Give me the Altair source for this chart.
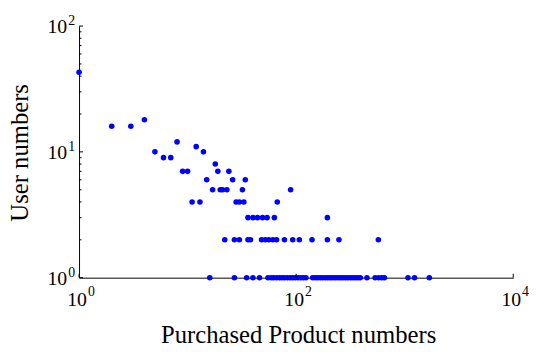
import altair as alt
import pandas as pd

# ---- data (x: purchased products, y: users) ----
x_43 = [1]
x_18 = [4]
x_16 = [2, 3]
x_12 = [8]
x_11 = [12]
x_10 = [5, 14]
x_9 = [6, 7]
x_8 = [18]
x_7 = [9, 10, 19, 24]
x_6 = [15, 26, 34]
x_5 = [17, 20, 21, 23, 32, 89]
x_4 = [11, 13, 28, 30, 33, 67]
x_3 = [36, 40, 44, 49, 54, 63, 194]
x_2 = [22, 27, 30, 36, 38, 48, 52, 56, 61, 66, 78, 93, 107, 140, 194, 248, 572]
x_1 = [16, 27, 35, 40, 46,
       55, 59, 62, 66, 70, 74, 78, 83, 88, 93, 98, 104, 110, 116, 123,
       142, 150, 158, 167, 176, 186, 196, 207, 218, 230, 243, 256, 270, 285,
       300, 317, 334, 352, 371, 390,
       449, 534, 575, 615, 650, 1072, 1232, 1687]

groups = {43: x_43, 18: x_18, 16: x_16, 12: x_12, 11: x_11, 10: x_10, 9: x_9,
          8: x_8, 7: x_7, 6: x_6, 5: x_5, 4: x_4, 3: x_3, 2: x_2, 1: x_1}

y_tick_vals = [1, 10, 100]
y_tick_exps = ["0", "1", "2"]
y_minor_vals = [2, 3, 4, 5, 6, 7, 8, 9, 20, 30, 40, 50, 60, 70, 80, 90]
x_tick_vals = [1, 100, 10000]
x_tick_exps = ["0", "2", "4"]

rows = []
for yv, xs in groups.items():
    for xv in xs:
        rows.append({"products": xv, "users": yv})
df = pd.DataFrame(rows)

ylab = pd.DataFrame({"v": y_tick_vals, "base": ["10"] * 3, "exp": y_tick_exps})
xlab = pd.DataFrame({"v": x_tick_vals, "base": ["10"] * 3, "exp": x_tick_exps})
yminor = pd.DataFrame({"v": y_minor_vals})

FONT = "Liberation Serif"
W, H = 440, 255

xscale = alt.Scale(type="log", domain=[1, 10000], nice=False)
yscale = alt.Scale(type="log", domain=[1, 100], nice=False)

xaxis = alt.Axis(title="Purchased Product numbers", labels=False, ticks=False,
                 grid=False, domainColor="black", domainWidth=1,
                 titleFont=FONT, titleFontSize=25, titleFontWeight="normal",
                 titleColor="black", titleX=W / 2 + 2, titleY=66,
                 titleBaseline="alphabetic", titleAlign="center")
yaxis = alt.Axis(title="User numbers", labels=False, ticks=False,
                 grid=False, domainColor="black", domainWidth=1,
                 titleFont=FONT, titleFontSize=25, titleFontWeight="normal",
                 titleColor="black", titleX=-52, titleY=128, titleAngle=270,
                 titleBaseline="alphabetic", titleAlign="center")


def X(field):
    return alt.X(field, scale=xscale, axis=xaxis, title="Purchased Product numbers")


def Y(field):
    return alt.Y(field, scale=yscale, axis=yaxis, title="User numbers")


points = alt.Chart(df).mark_circle(size=32, color="#0000FF", opacity=1).encode(
    x=X("products:Q"), y=Y("users:Q"))

y_major = alt.Chart(ylab).mark_rule(color="black", strokeWidth=1).encode(
    y=Y("v:Q"), x=alt.value(0), x2=alt.value(4))
y_minor_r = alt.Chart(yminor).mark_rule(color="black", strokeWidth=1).encode(
    y=Y("v:Q"), x=alt.value(0), x2=alt.value(2.5))
x_major = alt.Chart(xlab).mark_rule(color="black", strokeWidth=1).encode(
    x=X("v:Q"), y=alt.value(H), y2=alt.value(H - 4))

y_base = alt.Chart(ylab).mark_text(align="right", baseline="alphabetic", font=FONT,
                                   fontSize=20, color="black", dy=7).encode(
    y=Y("v:Q"), x=alt.value(-12), text="base:N")
y_exp = alt.Chart(ylab).mark_text(align="left", baseline="alphabetic", font=FONT,
                                  fontSize=14, color="black", dy=-1).encode(
    y=Y("v:Q"), x=alt.value(-11), text="exp:N")
x_base = alt.Chart(xlab).mark_text(align="center", baseline="alphabetic", font=FONT,
                                   fontSize=20, color="black", dx=-2).encode(
    x=X("v:Q"), y=alt.value(H + 29), text="base:N")
x_exp = alt.Chart(xlab).mark_text(align="left", baseline="alphabetic", font=FONT,
                                  fontSize=14, color="black", dx=9).encode(
    x=X("v:Q"), y=alt.value(H + 19), text="exp:N")

chart = alt.layer(points, y_major, y_minor_r, x_major, y_base, y_exp, x_base, x_exp).properties(
    width=W, height=H,
    padding={"left": 72, "top": 16, "right": 18, "bottom": 72},
    autosize=alt.AutoSizeParams(type="none"),
    background="white",
).configure(
    view=alt.ViewConfig(stroke="transparent", strokeWidth=0),
    style={"cell": {"stroke": "transparent", "strokeWidth": 0}},
)

chart.save("out.html", embed_options={"renderer": "svg", "actions": False})
